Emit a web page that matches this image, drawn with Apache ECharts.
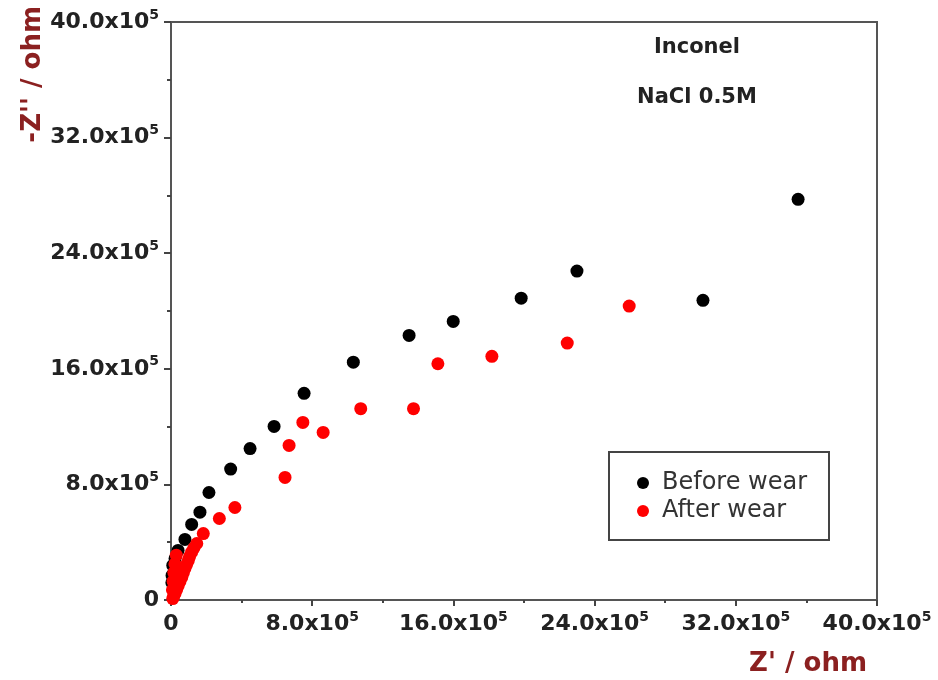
<!DOCTYPE html>
<html>
<head>
<meta charset="utf-8">
<script src="https://cdn.jsdelivr.net/npm/echarts@6/dist/echarts.min.js"></script>
<style>
html,body{margin:0;padding:0;background:#fff;}
#chart{width:938px;height:680px;}
</style>
</head>
<body>
<div id="chart"></div>
<script>
// Values in units of 10^5 ohm
var beforeZre = [35.53, 30.14, 23.0, 19.84, 15.99, 13.49, 10.33, 7.54, 5.84, 4.48, 3.38, 2.15, 1.64, 1.17, 0.79, 0.40, 0.23, 0.10, 0.06, 0.05];
var beforeZim = [27.73, 20.74, 22.76, 20.89, 19.28, 18.31, 16.46, 14.30, 12.01, 10.48, 9.06, 7.44, 6.08, 5.23, 4.19, 3.43, 2.87, 2.39, 1.70, 1.20];
var afterZre = [25.96, 22.45, 18.18, 15.12, 13.74, 10.75, 8.62, 7.47, 6.69, 6.46, 3.62, 2.74, 1.83, 1.46, 1.30, 1.17, 1.05, 0.98, 0.88, 0.79, 0.70, 0.61, 0.51, 0.41, 0.32, 0.23, 0.15, 0.10, 0.30, 0.22, 0.16, 0.12, 0.08];
var afterZim = [20.34, 17.78, 16.86, 16.35, 13.24, 13.24, 11.60, 12.29, 10.70, 8.48, 6.40, 5.64, 4.60, 3.91, 3.60, 3.31, 3.00, 2.73, 2.45, 2.18, 1.88, 1.58, 1.28, 1.00, 0.72, 0.45, 0.25, 0.10, 3.10, 2.50, 1.90, 1.30, 0.70];
var tickValues = [0, 8, 16, 24, 32, 40];
var seriesNames = ['Before wear', 'After wear'];
var annotations = ['Inconel', 'NaCl 0.5M'];

function pairs(xs, ys){ return xs.map(function(x,i){ return [x, ys[i]]; }); }
function fmt(v){
  if (tickValues.indexOf(v) < 0) return '';
  if (v === 0) return '{a|0}';
  return '{a|' + v.toFixed(1) + 'x10}{s|5}';
}
var FONT = 'DejaVu Sans';
var labelRich = {
  a: {fontFamily: FONT, fontSize: 22, fontWeight: 'bold', color: '#222', lineHeight: 28},
  s: {fontFamily: FONT, fontSize: 14, fontWeight: 'bold', color: '#222', lineHeight: 28, verticalAlign: 'top', padding: [0,0,9,0]}
};

var chart = echarts.init(document.getElementById('chart'));
chart.setOption({
  backgroundColor: '#fff',
  animation: false,
  grid: {left: 171, top: 22, right: 61, bottom: 80, show: true, borderColor: '#555', borderWidth: 2, backgroundColor: 'transparent'},
  xAxis: {
    type: 'value', min: 0, max: 40, interval: 8,
    axisLine: {show: true, onZero: false, lineStyle: {color: '#555', width: 2}},
    axisTick: {show: true, length: 6, lineStyle: {color: '#444', width: 2}},
    minorTick: {show: true, splitNumber: 2, length: 3, lineStyle: {color: '#444', width: 2}},
    splitLine: {show: false},
    axisLabel: {margin: 10, formatter: fmt, rich: labelRich},
    name: "Z' / ohm", nameLocation: 'end', nameGap: 0,
    nameTextStyle: {color: '#8b2020', fontFamily: FONT, fontSize: 26, fontWeight: 'bold', align: 'right', verticalAlign: 'top', padding: [51, 10, 0, 0]}
  },
  yAxis: {
    type: 'value', min: 0, max: 40, interval: 8,
    axisLine: {show: true, onZero: false, lineStyle: {color: '#555', width: 2}},
    axisTick: {show: true, length: 7, lineStyle: {color: '#444', width: 2}},
    minorTick: {show: true, splitNumber: 2, length: 4, lineStyle: {color: '#444', width: 2}},
    splitLine: {show: false},
    axisLabel: {margin: 12, formatter: fmt, rich: labelRich},
    name: "-Z'' / ohm", nameLocation: 'end', nameRotate: 90, nameGap: 16,
    nameTextStyle: {color: '#8b2020', fontFamily: FONT, fontSize: 26, fontWeight: 'bold', align: 'right', verticalAlign: 'bottom', padding: [0, 0, 125, 0]}
  },
  legend: {
    show: true, orient: 'vertical', left: 632, top: 466, itemGap: 4,
    itemWidth: 12, itemHeight: 12, icon: 'circle',
    data: seriesNames,
    textStyle: {fontFamily: FONT, fontSize: 24, color: '#333', padding: [0,0,0,8]}
  },
  graphic: [
    {type: 'rect', shape: {x: 609, y: 452, width: 220, height: 88}, style: {fill: 'none', stroke: '#444', lineWidth: 2}, z: 5},
    {type: 'text', style: {text: annotations[0], x: 697, y: 48, align: 'center', verticalAlign: 'middle', fontFamily: FONT, fontSize: 21, fontWeight: 'bold', fill: '#222'}},
    {type: 'text', style: {text: annotations[1], x: 697, y: 98, align: 'center', verticalAlign: 'middle', fontFamily: FONT, fontSize: 21, fontWeight: 'bold', fill: '#222'}}
  ],
  series: [
    {name: seriesNames[0], type: 'scatter', symbol: 'circle', symbolSize: 13, itemStyle: {color: '#000', opacity: 1}, data: pairs(beforeZre, beforeZim)},
    {name: seriesNames[1], type: 'scatter', symbol: 'circle', symbolSize: 13, itemStyle: {color: '#ff0000', opacity: 1}, data: pairs(afterZre, afterZim)}
  ]
});
</script>
</body>
</html>
